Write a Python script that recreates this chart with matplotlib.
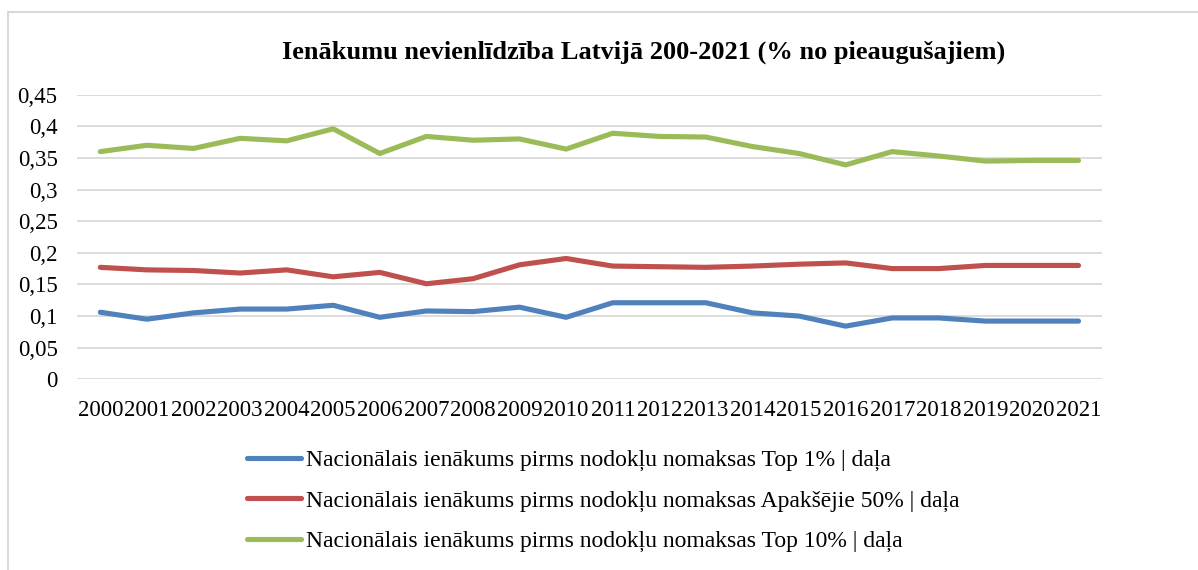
import matplotlib.pyplot as plt
from matplotlib.patches import Rectangle
from matplotlib.ticker import FuncFormatter

gadi = [str(g) for g in range(2000, 2022)]

top1 = [0.106, 0.095, 0.105, 0.111, 0.111, 0.117, 0.098, 0.108, 0.107, 0.114, 0.098,
        0.121, 0.121, 0.121, 0.105, 0.100, 0.084, 0.097, 0.097, 0.092, 0.092, 0.092]
apaksejie50 = [0.177, 0.173, 0.172, 0.168, 0.173, 0.162, 0.169, 0.151, 0.159, 0.181, 0.191,
               0.179, 0.178, 0.177, 0.179, 0.182, 0.184, 0.175, 0.175, 0.180, 0.180, 0.180]
top10 = [0.360, 0.370, 0.365, 0.381, 0.377, 0.396, 0.357, 0.384, 0.378, 0.380, 0.364,
         0.389, 0.384, 0.383, 0.368, 0.357, 0.339, 0.360, 0.353, 0.345, 0.346, 0.346]

nosaukumi = [
    "Nacionālais ienākums pirms nodokļu nomaksas Top 1% | daļa",
    "Nacionālais ienākums pirms nodokļu nomaksas Apakšējie 50% | daļa",
    "Nacionālais ienākums pirms nodokļu nomaksas Top 10% | daļa",
]
krasas = ["#4f81bd", "#c0504d", "#9bbb59"]

plt.rcParams['font.family'] = ['Liberation Serif', 'DejaVu Serif']

fig = plt.figure(figsize=(11.98, 5.70), dpi=100)
ax = fig.add_axes([0.0643, 0.3346, 0.8554, 0.4993])

x = list(range(len(gadi)))
for vert, nos, kr in zip([top1, apaksejie50, top10], nosaukumi, krasas):
    ax.plot(x, vert, color=kr, lw=3.7, label=nos, solid_capstyle='round')

ax.set_xlim(-0.5, len(gadi) - 0.5)
ax.set_ylim(0, 0.45)
ax.set_yticks([i * 0.05 for i in range(10)])
ax.yaxis.set_major_formatter(FuncFormatter(lambda v, p: ('%.2f' % v).rstrip('0').rstrip('.').replace('.', ',') if v else '0'))
ax.set_xticks(x)
ax.set_xticklabels(gadi)
ax.tick_params(length=0, labelsize=16.5)
ax.tick_params(axis='x', pad=15)
ax.tick_params(axis='y', pad=14)
ax.grid(axis='y', color='#d9d9d9', lw=1.3)
ax.set_axisbelow(True)
for s in ax.spines.values():
    s.set_visible(False)

fig.text(0.5375, 0.908, "Ienākumu nevienlīdzība Latvijā 200-2021 (% no pieaugušajiem)",
         ha='center', va='center', fontsize=19, fontweight='bold')

fig.legend(loc='upper left', bbox_to_anchor=(0.198, 0.228), frameon=False,
           fontsize=17, handlelength=2.3, handletextpad=0.2, labelspacing=0.8,
           borderaxespad=0)

fig.patches.append(Rectangle((8 / 1198, -0.1), 1.2, 1 - 12 / 570 + 0.1,
                             transform=fig.transFigure, fill=False,
                             edgecolor='#d9d9d9', lw=1.5))

fig.savefig("out.png", dpi=100)
